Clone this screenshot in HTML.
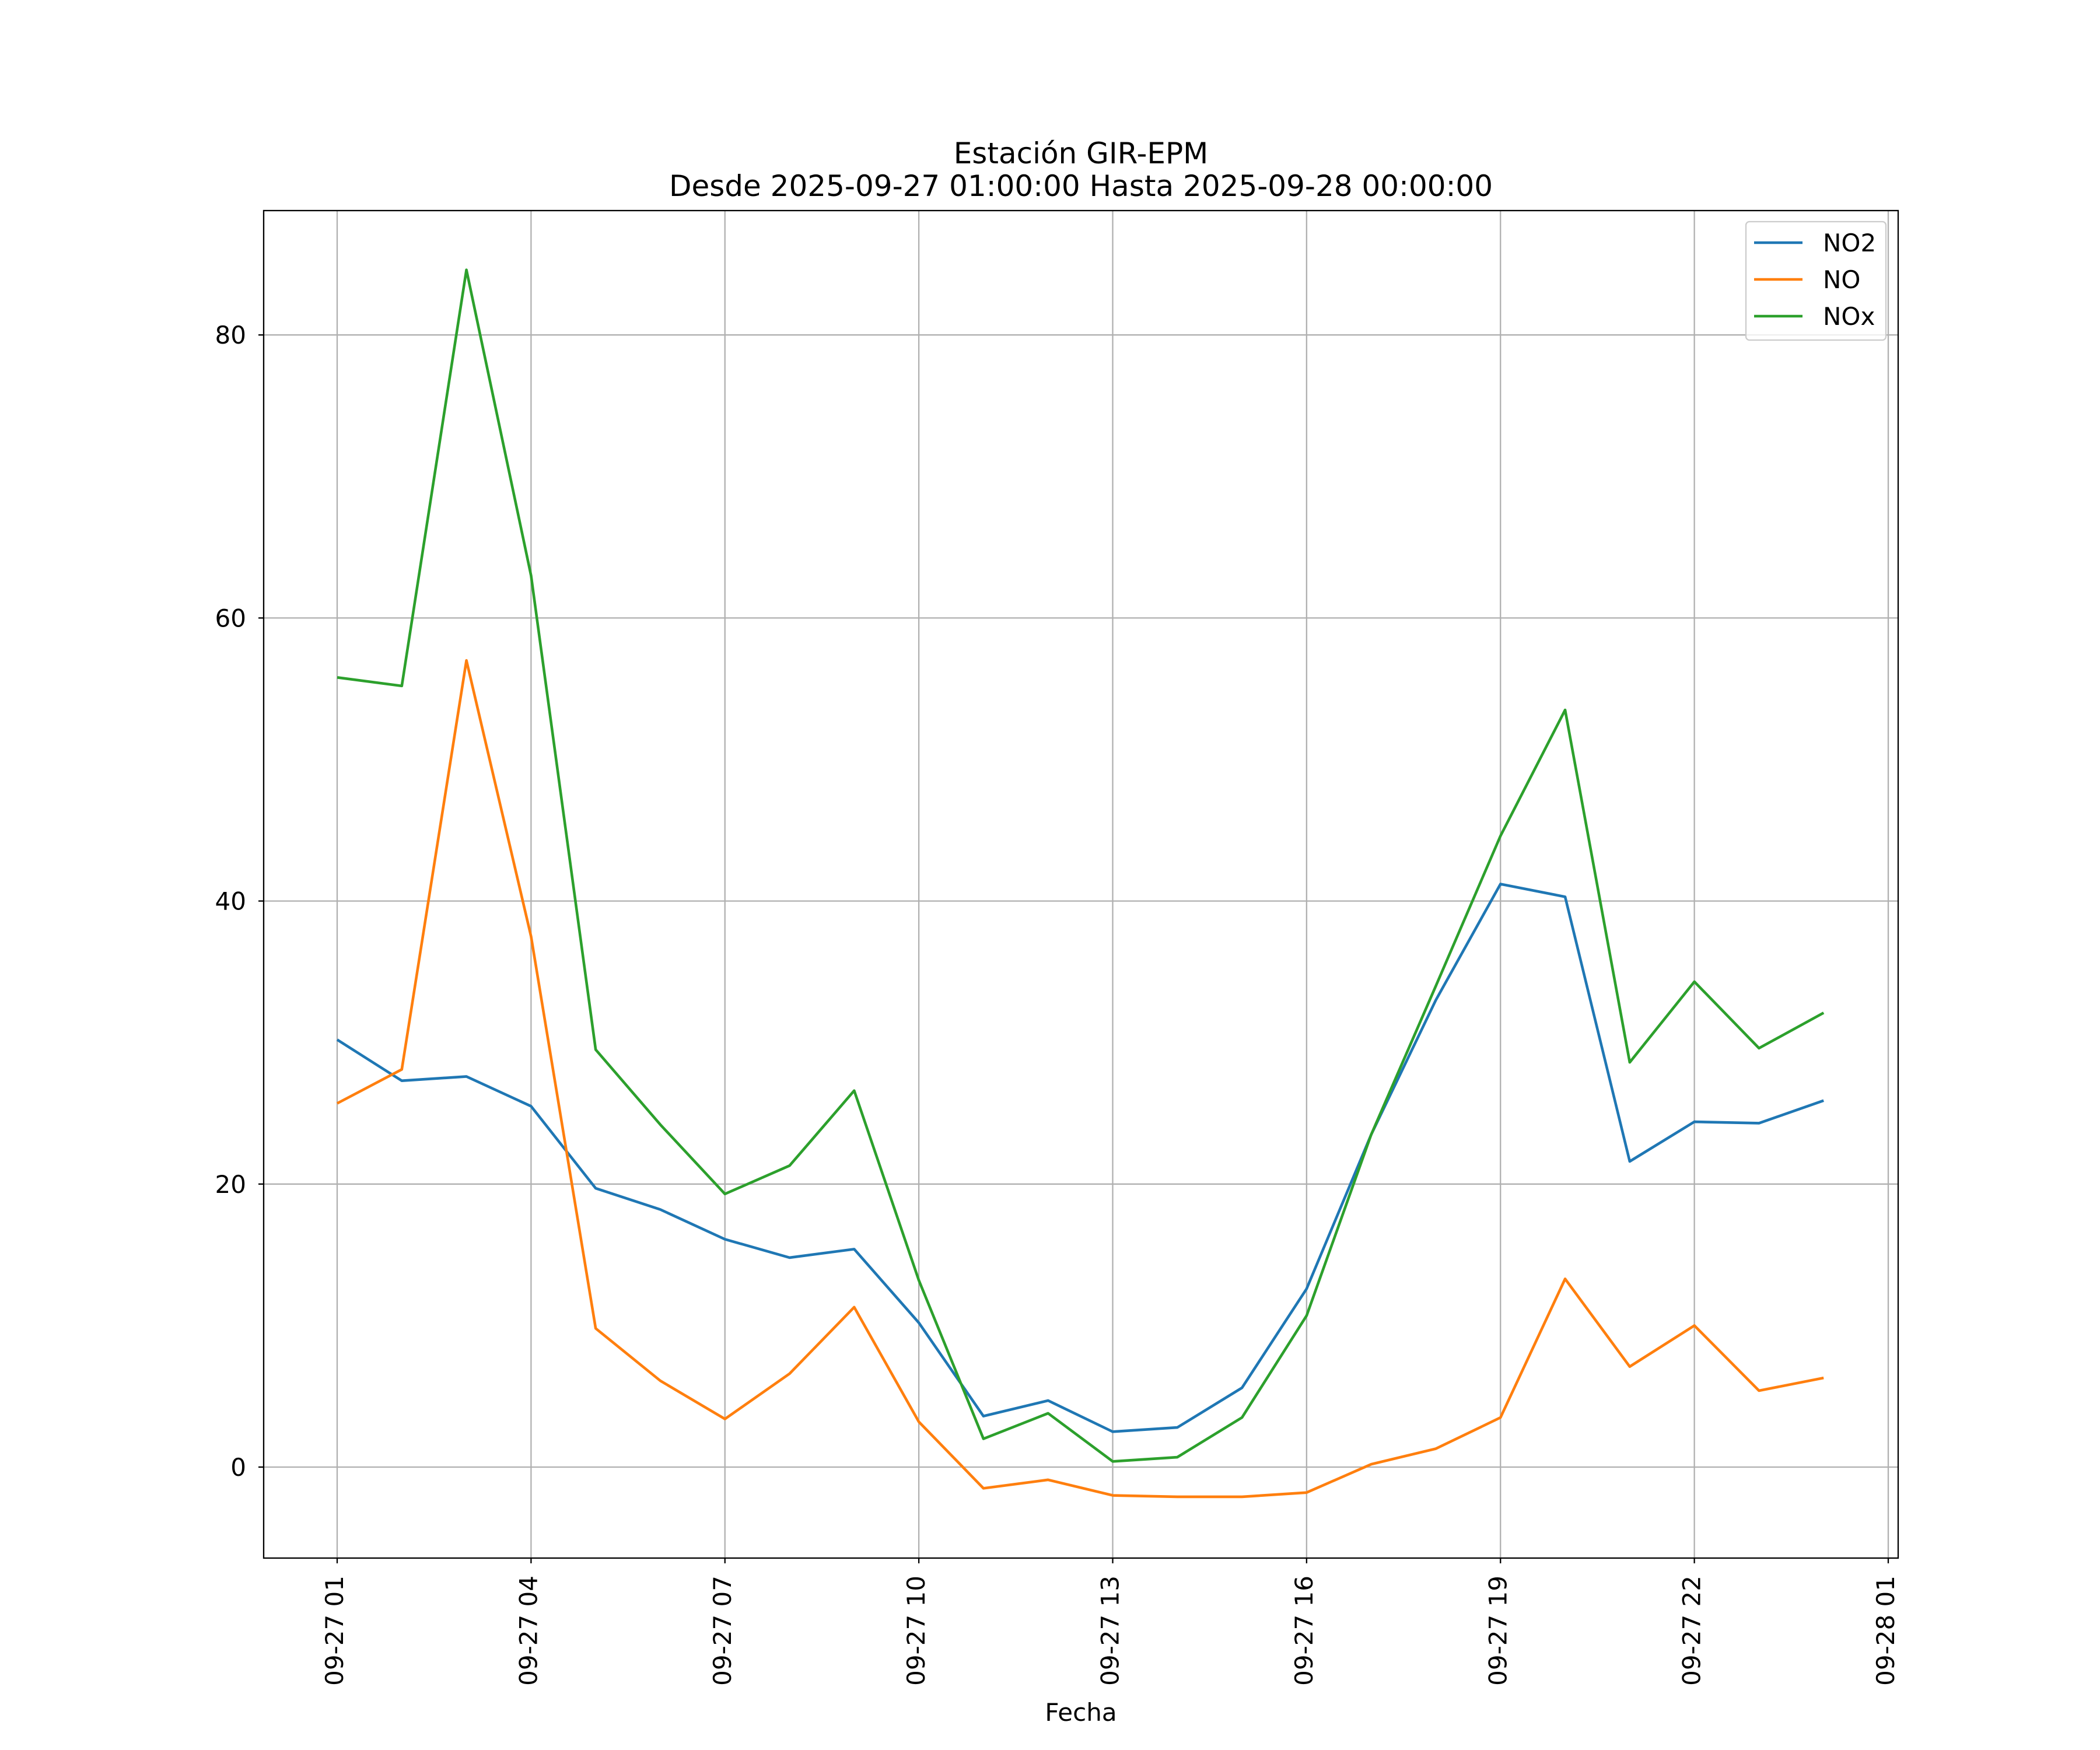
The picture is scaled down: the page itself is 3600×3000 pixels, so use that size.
<!DOCTYPE html>
<html><head><meta charset="utf-8"><style>
html,body{margin:0;padding:0;background:#fff;}
svg{display:block;font-family:"DejaVu Sans","Liberation Sans",sans-serif;}
</style></head><body>
<svg id="chart" width="3600" height="3000" viewBox="0 0 3600 3000">
<rect width="3600" height="3000" fill="#fff"/>
<g id="grid"></g>
<g id="series"></g>
<rect x="452" y="361" width="2802" height="2310" fill="none" stroke="#000" stroke-width="2.3"/>
<g id="ticks"></g>
<text x="1853" y="280" font-size="50" text-anchor="middle">Estación GIR-EPM</text>
<text x="1853" y="336" font-size="50" text-anchor="middle">Desde 2025-09-27 01:00:00 Hasta 2025-09-28 00:00:00</text>
<text x="1853" y="2950" font-size="42" text-anchor="middle">Fecha</text>
<g>
<rect x="2993" y="380" width="240" height="203" rx="6" fill="#fff" fill-opacity="0.8" stroke="#ccc" stroke-width="2.3"/>
<g id="legend"></g>
</g>
</svg>
<script>
const hours = [1,2,3,4,5,6,7,8,9,10,11,12,13,14,15,16,17,18,19,20,21,22,23,24];
const no2 = [30.2,27.3,27.6,25.5,19.7,18.2,16.1,14.8,15.4,10.2,3.6,4.7,2.5,2.8,5.6,12.6,23.5,33,41.2,40.3,21.6,24.4,24.3,25.9];
const no = [25.7,28.1,57,37.5,9.8,6.1,3.4,6.6,11.3,3.2,-1.5,-0.9,-2,-2.1,-2.1,-1.8,0.2,1.3,3.5,13.3,7.1,10,5.4,6.3];
const nox = [55.8,55.2,84.6,63,29.5,24.2,19.3,21.3,26.6,13.2,2,3.8,0.4,0.7,3.5,10.7,23.5,34,44.6,53.5,28.6,34.3,29.6,32.1];
const yTicks = [0,20,40,60,80];
const xTickHours = [1,4,7,10,13,16,19,22,25];
const xTickLabels = ["09-27 01","09-27 04","09-27 07","09-27 10","09-27 13","09-27 16","09-27 19","09-27 22","09-28 01"];
const seriesNames = ["NO2","NO","NOx"];
const colors = ["#1f77b4","#ff7f0e","#2ca02c"];

const NS="http://www.w3.org/2000/svg";
const L=452,R=3254,T=361,B=2671;
const x = h => 578 + (h-1)*(3237-578)/24;
const y = v => 2515 - v*24.26;
function mk(tag,attrs,parent){const e=document.createElementNS(NS,tag);for(const k in attrs)e.setAttribute(k,attrs[k]);parent.appendChild(e);return e;}
const grid=document.getElementById('grid'),ticks=document.getElementById('ticks'),ser=document.getElementById('series'),leg=document.getElementById('legend');
yTicks.forEach(v=>{
  const g=mk('line',{x1:L,x2:R,y1:y(v),y2:y(v),stroke:'#b0b0b0','stroke-width':2.3},grid);
  
  
  mk('line',{x1:L-9,x2:L,y1:y(v),y2:y(v),stroke:'#000','stroke-width':2.3},ticks);
  const t=mk('text',{x:L-30,y:y(v)+15,'font-size':42,'text-anchor':'end'},ticks);
  t.textContent=v;
  
  
});
xTickHours.forEach((h,i)=>{
  const g=mk('line',{x1:x(h),x2:x(h),y1:T,y2:B,stroke:'#b0b0b0','stroke-width':2.3},grid);
  
  
  mk('line',{x1:x(h),x2:x(h),y1:B,y2:B+9,stroke:'#000','stroke-width':2.3},ticks);
  const t=mk('text',{x:0,y:0,'font-size':42,'text-anchor':'end',transform:`translate(${x(h)+10},${B+30}) rotate(-90)`},ticks);
  t.textContent=xTickLabels[i];
  
  
});
[no2,no,nox].forEach((d,i)=>{
  const p=mk('polyline',{points:d.map((v,j)=>x(hours[j])+','+y(v)).join(' '),fill:'none',stroke:colors[i],'stroke-width':4.6,'stroke-linejoin':'round'},ser);
  
  
  const ly=416+i*63;
  const ll=mk('line',{x1:3007,x2:3090,y1:ly,y2:ly,stroke:colors[i],'stroke-width':4.6},leg);
  
  
  const lt=mk('text',{x:3125,y:ly+15,'font-size':42},leg);
  lt.textContent=seriesNames[i];
  
  
});
</script>
</body></html>
